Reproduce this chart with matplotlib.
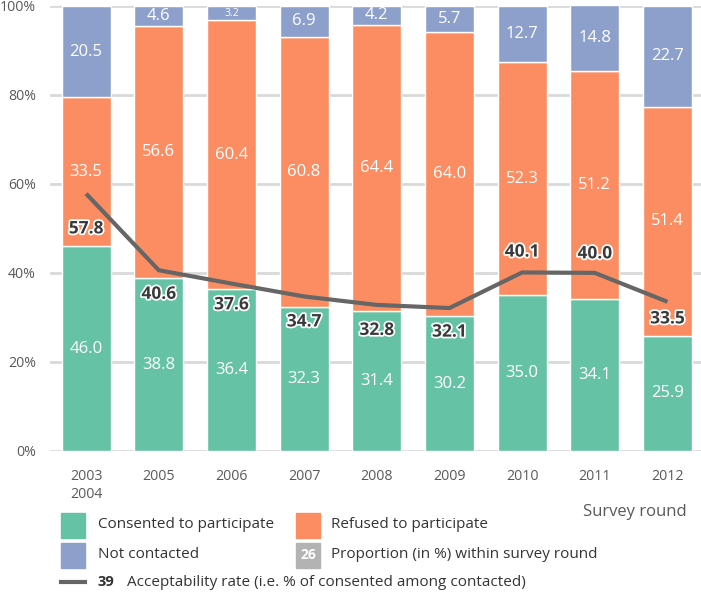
import matplotlib.pyplot as plt
import matplotlib.patheffects as pe
from matplotlib.patches import Rectangle
from matplotlib.lines import Line2D
import numpy as np

plt.rcParams['font.family'] = ['Open Sans', 'DejaVu Sans']

rounds = ['2003\n2004', '2005', '2006', '2007', '2008', '2009', '2010', '2011', '2012']
consented = [46.0, 38.8, 36.4, 32.3, 31.4, 30.2, 35.0, 34.1, 25.9]
refused = [33.5, 56.6, 60.4, 60.8, 64.4, 64.0, 52.3, 51.2, 51.4]
not_contacted = [20.5, 4.6, 3.2, 6.9, 4.2, 5.7, 12.7, 14.8, 22.7]
acceptability = [57.8, 40.6, 37.6, 34.7, 32.8, 32.1, 40.1, 40.0, 33.5]
# vertical offset (points) of the rate labels from the line
label_offset_pt = [-25, -17, -15, -18, -18, -17, 15, 14, -12]

c_green = '#66c2a5'
c_orange = '#fc8d62'
c_blue = '#8da0cb'
c_line = '#666666'
c_text = '#595959'

fig = plt.figure(figsize=(7.01, 5.94), dpi=100)
ax = fig.add_axes([0.071, 0.241, 0.933, 0.749])

x = np.arange(len(rounds))
width = 0.675
cons = np.array(consented)
ref = np.array(refused)
nc = np.array(not_contacted)

ax.bar(x, cons, width, color=c_green, edgecolor='white', linewidth=1, zorder=2)
ax.bar(x, ref, width, bottom=cons, color=c_orange, edgecolor='white', linewidth=1, zorder=2)
ax.bar(x, nc, width, bottom=cons + ref, color=c_blue, edgecolor='white', linewidth=1, zorder=2)

# segment labels
for i in range(len(x)):
    bottoms = [0, cons[i], cons[i] + ref[i]]
    for v, b in zip([cons[i], ref[i], nc[i]], bottoms):
        fs = 7.5 if v < 4 else 12
        ax.text(x[i], b + v / 2, f'{v:.1f}', ha='center', va='center',
                color='white', fontsize=fs, zorder=3)

ax.plot(x, acceptability, color=c_line, linewidth=3, zorder=4, solid_capstyle='butt')
for i, v in enumerate(acceptability):
    ax.annotate(f'{v:.1f}', (x[i], v), xytext=(0, label_offset_pt[i]), textcoords='offset points',
                ha='center', va='center', fontsize=12.5, fontweight='bold', color='#3a3a3a',
                zorder=5, path_effects=[pe.withStroke(linewidth=2.5, foreground='white')])

ax.set_xlim(-0.5, len(x) - 0.5)
ax.set_ylim(0, 100)
ax.set_yticks([0, 20, 40, 60, 80, 100])
ax.set_yticklabels([f'{t}%' for t in [0, 20, 40, 60, 80, 100]])
ax.set_xticks(x)
ax.set_xticklabels(rounds, linespacing=1.3)
ax.tick_params(axis='both', length=0, colors=c_text, labelsize=10.2)
ax.tick_params(axis='y', pad=10)
ax.tick_params(axis='x', pad=13)
for s in ax.spines.values():
    s.set_visible(False)
ax.grid(True, axis='y', color='#d9d9d9', linewidth=2, zorder=0)
ax.set_axisbelow(True)

# legend drawn in figure coordinates
W, H = 701, 594
def fx(px): return px / W
def fy(py): return 1 - py / H

fig.text(fx(687), fy(512), 'Survey round', ha='right', va='center', fontsize=12, color=c_text)
items = [
    (61, 525, c_green, 'Consented to participate'),
    (296, 525, c_orange, 'Refused to participate'),
    (61, 555, c_blue, 'Not contacted'),
    (296, 555, '#b3b3b3', 'Proportion (in %) within survey round'),
]
for px, py, col, txt in items:
    fig.patches.append(Rectangle((fx(px), fy(py + 12.5)), 24 / W, 25 / H,
                                 transform=fig.transFigure, color=col, figure=fig))
    fig.text(fx(px + 37 if px < 100 else px + 35), fy(py), txt, ha='left', va='center',
             fontsize=11, color='#333333')
fig.text(fx(308), fy(555), '26', ha='center', va='center', fontsize=10,
         fontweight='bold', color='white')
fig.lines.append(Line2D([fx(61), fx(85)], [fy(582), fy(582)], transform=fig.transFigure,
                        color=c_line, linewidth=3, figure=fig))
fig.text(fx(98), fy(582), '39', ha='left', va='center', fontsize=10.5, fontweight='bold', color='#333333')
fig.text(fx(127), fy(582), 'Acceptability rate (i.e. % of consented among contacted)',
         ha='left', va='center', fontsize=11, color='#333333')

fig.savefig('out.png', dpi=100)
